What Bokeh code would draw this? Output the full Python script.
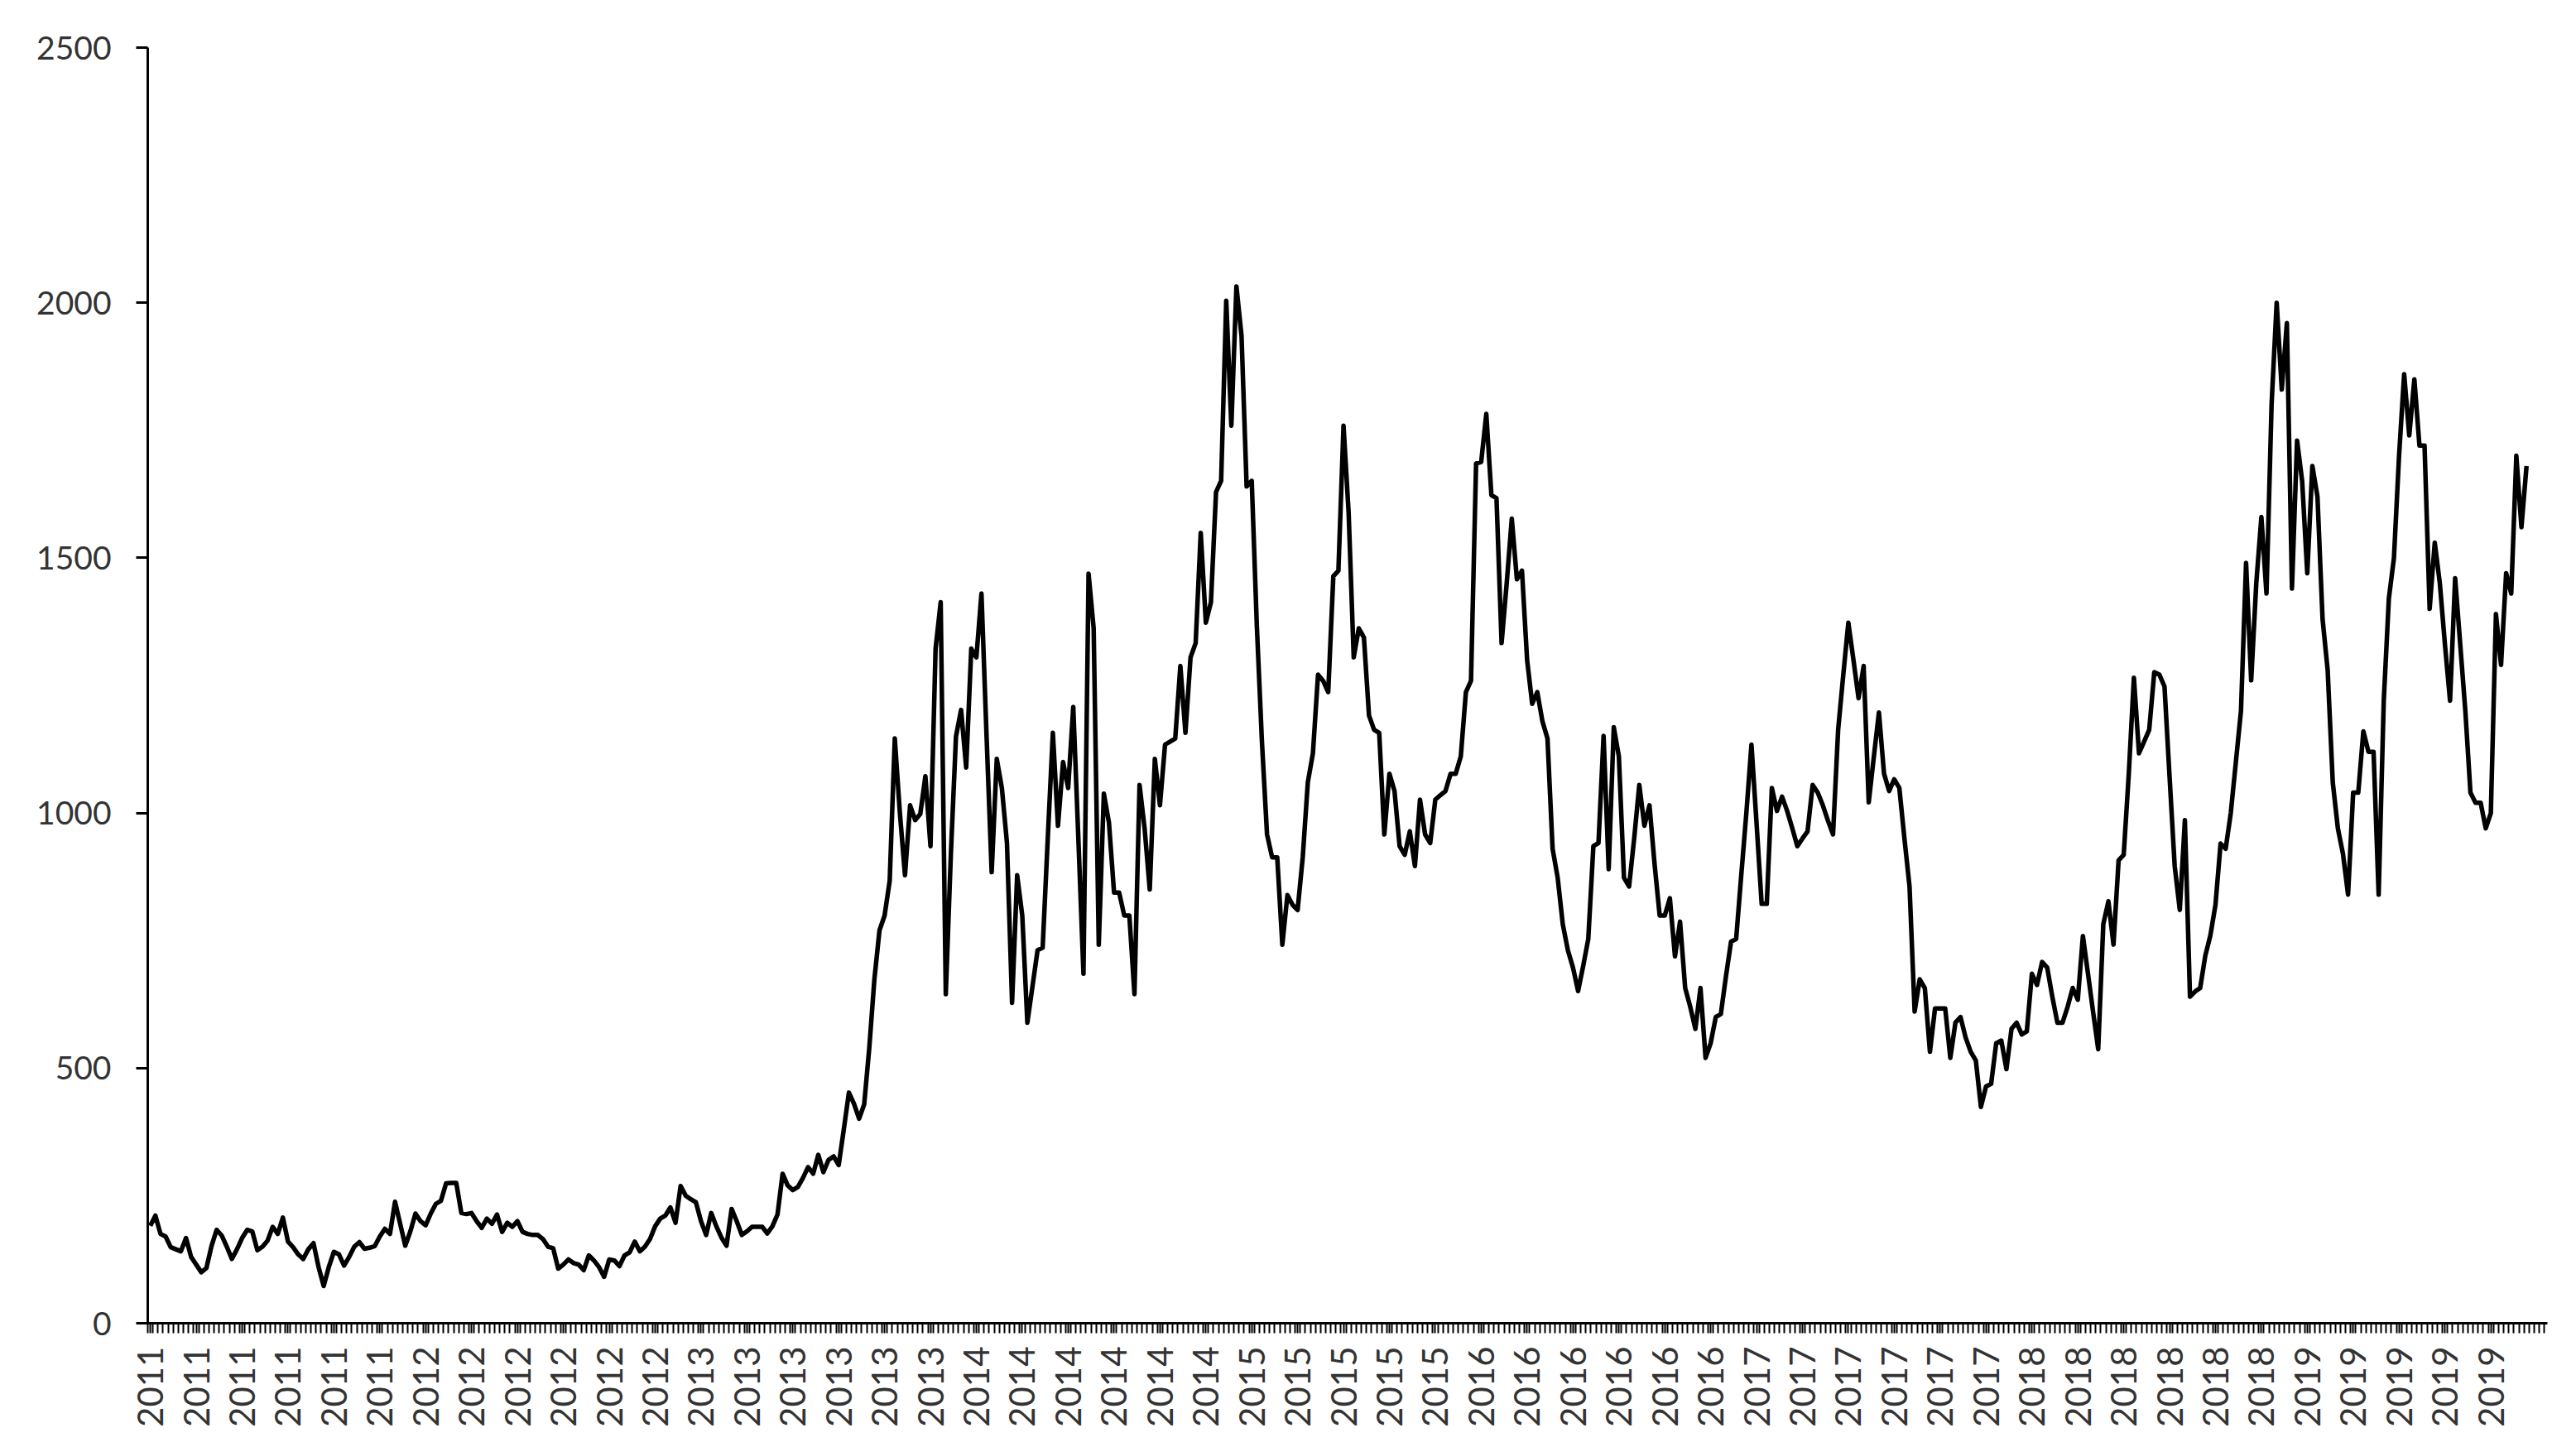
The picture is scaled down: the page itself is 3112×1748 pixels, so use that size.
import math
import pandas as pd
from bokeh.plotting import figure
from bokeh.models import Range1d, FixedTicker
from bokeh.embed import file_html
from bokeh.resources import INLINE

# weekly series, 2011 .. 2019
values = [
    191, 211, 175, 170, 149, 145, 141, 167, 130, 115, 100, 108, 151, 183, 172, 150, 126, 145, 167, 183,
    180, 143, 150, 162, 189, 175, 207, 160, 149, 135, 126, 145, 157, 110, 73, 110, 140, 135, 113, 130,
    150, 159, 146, 148, 151, 170, 185, 175, 238, 195, 152, 180, 215, 200, 192, 215, 234, 240, 274, 275,
    275, 216, 214, 216, 200, 187, 205, 195, 213, 179, 197, 189, 200, 179, 175, 173, 173, 165, 150, 147,
    107, 115, 125, 118, 115, 104, 133, 123, 110, 91, 125, 123, 112, 133, 139, 160, 141, 150, 165, 190,
    205, 211, 227, 197, 269, 250, 243, 237, 200, 173, 216, 190, 168, 152, 224, 200, 173, 180, 189, 189,
    189, 176, 190, 213, 293, 270, 261, 267, 285, 306, 293, 330, 296, 320, 327, 310, 380, 452, 430, 401,
    429, 540, 674, 770, 799, 867, 1146, 1000, 878, 1015, 986, 998, 1072, 935, 1322, 1413, 645, 920, 1150, 1202,
    1089, 1322, 1305, 1430, 1150, 884, 1106, 1049, 941, 628, 878, 799, 589, 660, 731, 736, 950, 1157, 975, 1100,
    1049, 1208, 950, 685, 1469, 1362, 742, 1038, 981, 844, 844, 799, 799, 645, 1055, 969, 850, 1106, 1015, 1134,
    1140, 1146, 1288, 1157, 1305, 1333, 1549, 1373, 1413, 1629, 1651, 2004, 1759, 2032, 1935, 1640, 1651, 1367, 1140, 958,
    913, 913, 742, 839, 820, 810, 913, 1060, 1117, 1271, 1259, 1237, 1464, 1475, 1759, 1589, 1305, 1362, 1344, 1191,
    1163, 1157, 958, 1077, 1043, 935, 918, 964, 896, 1026, 958, 941, 1026, 1035, 1043, 1077, 1077, 1111, 1237, 1259,
    1685, 1688, 1782, 1623, 1617, 1333, 1450, 1577, 1458, 1475, 1300, 1214, 1237, 1180, 1146, 930, 873, 782, 731, 697,
    651, 700, 753, 935, 941, 1151, 890, 1168, 1111, 873, 856, 950, 1055, 975, 1015, 900, 799, 799, 833, 719,
    787, 657, 620, 577, 657, 520, 549, 600, 606, 680, 748, 753, 878, 1000, 1134, 980, 822, 822, 1049, 1004,
    1032, 1004, 970, 935, 950, 964, 1055, 1040, 1015, 985, 958, 1163, 1270, 1373, 1300, 1225, 1288, 1021, 1110, 1197,
    1077, 1043, 1066, 1049, 950, 856, 611, 674, 657, 532, 617, 617, 617, 520, 589, 600, 560, 532, 515, 424,
    464, 469, 549, 554, 498, 577, 589, 566, 572, 685, 663, 708, 697, 640, 589, 589, 620, 657, 634, 759,
    685, 610, 537, 782, 827, 742, 907, 918, 1077, 1265, 1117, 1140, 1163, 1276, 1271, 1248, 1070, 896, 810, 986,
    640, 650, 657, 720, 760, 820, 940, 930, 1000, 1100, 1200, 1490, 1260, 1450, 1580, 1430, 1800, 2000, 1830, 1960,
    1440, 1730, 1650, 1470, 1680, 1620, 1380, 1280, 1060, 970, 920, 840, 1040, 1040, 1160, 1120, 1120, 840, 1220, 1420,
    1500, 1700, 1860, 1740, 1850, 1720, 1720, 1400, 1530, 1450, 1330, 1220, 1460, 1330, 1200, 1040, 1020, 1020, 970, 1000,
    1390, 1290, 1470, 1430, 1700, 1560, 1680,
]

N = len(values)
weeks = pd.date_range("2011-01-07", periods=N, freq="7D")
year_labels = [str(d.year) for d in weeks]
label_step = 9
y_ticks = [0, 500, 1000, 1500, 2000, 2500]

x = list(range(N))

p = figure(
    width=3096, height=1732,
    output_backend="svg", toolbar_location=None,
    x_range=Range1d(-0.5, 470.1), y_range=Range1d(0, 2500),
    min_border_left=178, min_border_right=19, min_border_top=57, min_border_bottom=134,
)
p.line(x, values, line_color="black", line_width=5.5, line_join="round")

p.grid.visible = False
p.outline_line_color = None
p.background_fill_color = "white"
p.border_fill_color = "white"

FONT = "Lato"
TXT = "#333333"

label_idx = list(range(0, N, label_step))
p.xaxis.ticker = FixedTicker(ticks=label_idx, minor_ticks=[i - 0.5 for i in range(N + 4)])
p.xaxis.major_label_overrides = {i: year_labels[i] for i in label_idx}
p.xaxis.major_label_orientation = math.pi / 2
p.xaxis.major_label_text_font = FONT
p.xaxis.major_label_text_font_size = "42px"
p.xaxis.major_label_text_color = TXT
p.xaxis.major_label_standoff = 16
p.xaxis.axis_line_color = "black"
p.xaxis.axis_line_width = 3
p.xaxis.major_tick_line_color = "black"
p.xaxis.major_tick_line_width = 2
p.xaxis.major_tick_in = 0
p.xaxis.major_tick_out = 12
p.xaxis.minor_tick_line_color = "black"
p.xaxis.minor_tick_line_width = 2
p.xaxis.minor_tick_in = 0
p.xaxis.minor_tick_out = 12

p.yaxis.ticker = FixedTicker(ticks=y_ticks, minor_ticks=[])
p.yaxis.major_label_text_font = FONT
p.yaxis.major_label_text_font_size = "39px"
p.yaxis.major_label_text_color = TXT
p.yaxis.major_label_standoff = 30
p.yaxis.axis_line_color = "black"
p.yaxis.axis_line_width = 3
p.yaxis.major_tick_line_color = "black"
p.yaxis.major_tick_line_width = 3
p.yaxis.major_tick_in = 0
p.yaxis.major_tick_out = 14
p.yaxis.minor_tick_line_color = None

open("out.html", "w").write(file_html(p, INLINE))
